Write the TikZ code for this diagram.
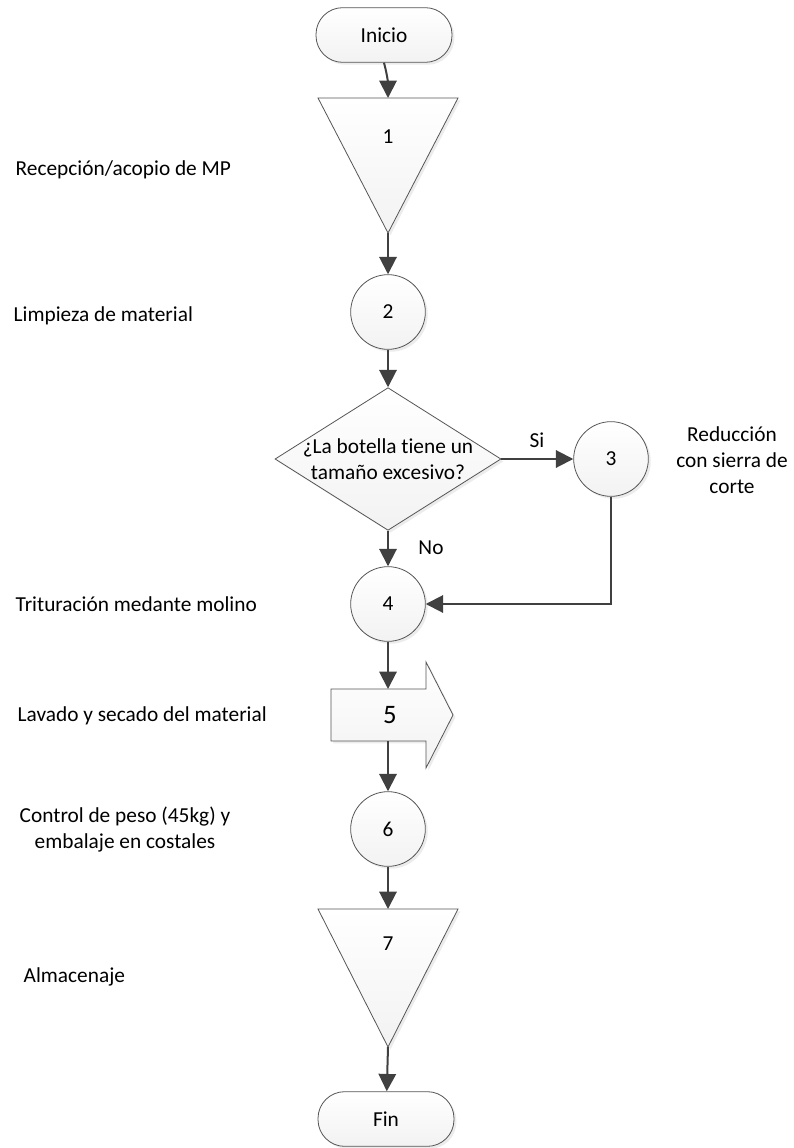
\documentclass[tikz,border=0pt]{standalone}
\usepackage{fontspec}
\setmainfont{Carlito}[Ligatures=NoCommon]
\usetikzlibrary{arrows.meta,shapes.geometric,shadows}
\definecolor{linegray}{HTML}{404040}
\definecolor{edgegray}{HTML}{555555}

\tikzset{
  box/.style={draw=edgegray, line width=0.6pt, top color=white, bottom color=black!5,
    drop shadow={shadow xshift=1.8pt, shadow yshift=-1.8pt, fill=black!25, opacity=0.3}},
  term/.style={box, rectangle, rounded corners=20pt, minimum width=102pt, minimum height=41pt},
  op/.style={box, circle, minimum size=56pt, inner sep=0pt},
  decision/.style={box, diamond, minimum width=169.5pt, minimum height=107pt, inner sep=0pt},
  flow/.style={draw=linegray, line width=1.5pt, -{Triangle[length=13pt,width=13pt]}},
  step label/.style={anchor=west},
}

\begin{document}
\begin{tikzpicture}[x=0.75pt, y=-0.75pt, font=\fontsize{16}{19.5}\selectfont]
  \useasboundingbox (0,0) rectangle (793,1148);

  % inicio y fin
  \node[term] (inicio) at (384,35) {Inicio};
  \node[term] (fin) at (386,1119) {Fin};

  % almacenaje de materia prima
  \coordinate (t1n) at (388,98);
  \coordinate (t1s) at (388,233);
  \draw[box] (318,98) -- (458,98) -- (t1s) -- cycle;
  \node (n1) at (388,137) {1};

  \node[op] (c2) at (388,312) {2};

  % pregunta
  \node[decision, label={[align=center]center:¿La botella tiene un\\tamaño excesivo?}] (dec) at (388,459) {};
  \node[op] (c3) at (611,459) {3};
  \node[op] (c4) at (388,604) {4};

  % transporte
  \coordinate (a5n) at (388,689);
  \coordinate (a5s) at (388,741);
  \draw[box] (331,689) -- (426,689) -- (426,662) -- (453,715) -- (426,768) -- (426,741) -- (331,741) -- cycle;
  \node[font=\fontsize{20}{24}\selectfont] (n5) at (390,715) {5};

  \node[op] (c6) at (388,829) {6};

  % almacenaje final
  \coordinate (t7n) at (388,909);
  \coordinate (t7s) at (388,1047);
  \draw[box] (318,909) -- (458,909) -- (t7s) -- cycle;
  \node (n7) at (388,944) {7};

  % conectores
  \draw[flow] (inicio.south) to[out=-75,in=90] (t1n);
  \draw[flow] (t1s) -- (c2);
  \draw[flow] (c2) -- (dec);
  \draw[flow] (dec) -- (c3);
  \draw[flow] (dec) -- (c4);
  \draw[flow] (c3) |- (c4);
  \draw[flow] (c4) -- (a5n);
  \draw[flow] (a5s) -- (c6);
  \draw[flow] (c6) -- (t7n);
  \draw[flow] (t7s) -- (fin);

  \node (si) at (537,440) {Si};
  \node (no) at (431,548) {No};

  % descripciones
  \node[step label] at (11,170) {Recepción/acopio de MP};
  \node[step label] at (9,316) {Limpieza de material};
  \node[align=center] at (732,460) {Reducción\\con sierra de\\corte};
  \node[step label] at (11,604) {Trituración medante molino};
  \node[step label] at (13,716) {Lavado y secado del material};
  \node[align=center] at (125,830) {Control de peso (45kg) y\\embalaje en costales};
  \node[step label] at (19,977) {Almacenaje};
\end{tikzpicture}
\end{document}
